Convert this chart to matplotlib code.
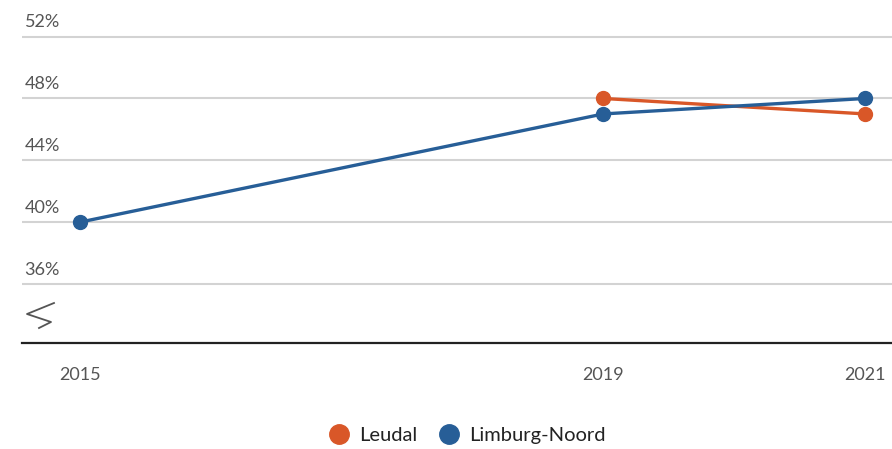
import matplotlib.pyplot as plt
from matplotlib.lines import Line2D

years_leudal = [2019, 2021]
leudal = [48, 47]
years_noord = [2015, 2019, 2021]
limburg_noord = [40, 47, 48]
y_ticks = [36, 40, 44, 48, 52]
x_ticks = [2015, 2019, 2021]

ORANGE = '#d95728'
BLUE = '#275e97'

plt.rcParams['font.family'] = ['Lato', 'DejaVu Sans']

fig = plt.figure(figsize=(8.92, 4.49), dpi=100)
W, H = 892, 449
ax = fig.add_axes([22 / W, 1 - 343 / H, 870 / W, 328 / H])

ax.set_xlim(2014.557, 2021.206)
ax.set_ylim(32.18, 53.4)

for v in y_ticks:
    ax.axhline(v, color='#d3d3d3', lw=1.5, zorder=1)
    ax.text(0.003, v + 0.4, f'{v}%', transform=ax.get_yaxis_transform(),
            fontsize=13, color='#555555', va='bottom', ha='left')

ax.plot(years_leudal, leudal, color=ORANGE, lw=2.4, marker='o', ms=10, zorder=3)
ax.plot(years_noord, limburg_noord, color=BLUE, lw=2.4, marker='o', ms=10, zorder=4)

for s in ['top', 'right', 'left']:
    ax.spines[s].set_visible(False)
ax.spines['bottom'].set_color('#222222')
ax.spines['bottom'].set_linewidth(1.6)
ax.set_yticks([])
ax.set_xticks(x_ticks)
ax.set_xticklabels([str(x) for x in x_ticks])
ax.tick_params(axis='x', length=0, pad=17, labelsize=13, labelcolor='#555555')

# axis break zigzag
zx = [54, 27, 51, 39]
zy = [303, 314, 322, 328]
fig.add_artist(Line2D([x / W for x in zx], [1 - y / H for y in zy],
                      transform=fig.transFigure, color='#555555', lw=1.3))

handles = [Line2D([], [], color=ORANGE, marker='o', ls='none', ms=14),
           Line2D([], [], color=BLUE, marker='o', ls='none', ms=14)]
fig.legend(handles, ['Leudal', 'Limburg-Noord'], loc='center',
           bbox_to_anchor=(0.518, 1 - 435 / H), ncol=2, frameon=False,
           fontsize=14.5, handletextpad=0.0, columnspacing=0.6,
           labelcolor='#222222')

fig.savefig('out.png', dpi=100)
